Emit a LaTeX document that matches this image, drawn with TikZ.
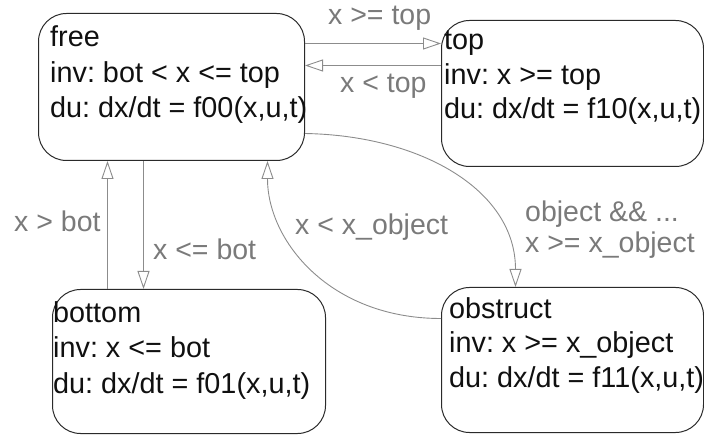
\documentclass[tikz,border=0pt]{standalone}
\usepackage{fontspec}
\setmainfont{Liberation Sans}
\usetikzlibrary{arrows.meta,calc}
\definecolor{boxline}{HTML}{2A2A2A}
\definecolor{edgeline}{HTML}{8C8C8C}
\definecolor{labelgray}{HTML}{7A7A7A}
\definecolor{txt}{HTML}{101010}
\frenchspacing
\begin{document}
\begin{tikzpicture}[x=1pt,y=-1pt,
  state/.style={draw=boxline,line width=1pt,rounded corners=28pt,inner sep=0pt,anchor=north west},
  st/.style={anchor=base west,inner sep=0pt,text=txt,font=\fontsize{28.8}{34}\selectfont},
  lbl/.style={anchor=base west,inner sep=0pt,text=labelgray,font=\fontsize{28.5}{34}\selectfont},
  arr/.style={draw=edgeline,line width=0.9pt,-{Triangle[open,length=18pt,width=12pt]}}]
\useasboundingbox (0,0) rectangle (704,435);
% state boxes
\node[state,minimum width=266pt,minimum height=147pt] (free) at (38,13) {};
\node[state,minimum width=262pt,minimum height=146pt] (top) at (441,20) {};
\node[state,minimum width=273pt,minimum height=144pt] (bottom) at (52,289) {};
\node[state,minimum width=262pt,minimum height=145pt] (obstruct) at (441,287) {};
% state texts
\node[st] (free1) at (50,47) {free};
\node[st] (free2) at (50,83) {inv: bot < x <= top};
\node[st] (free3) at (50,118) {du: dx/dt = f00(x,u,t)};
\node[st] (top1) at (444,50) {top};
\node[st] (top2) at (444,84.5) {inv: x >= top};
\node[st] (top3) at (444,119) {du: dx/dt = f10(x,u,t)};
\node[st] (bottom1) at (53,323) {bottom};
\node[st] (bottom2) at (53,358) {inv: x <= bot};
\node[st] (bottom3) at (53,393) {du: dx/dt = f01(x,u,t)};
\node[st] (obstruct1) at (449,319) {obstruct};
\node[st] (obstruct2) at (449,353) {inv: x >= x\_object};
\node[st] (obstruct3) at (449,388) {du: dx/dt = f11(x,u,t)};
% connectors
\draw[arr] ([yshift=43.5pt]free.east) -- ([yshift=43.5pt]free.east -| top.west);
\draw[arr] ([yshift=28pt]top.west) -- ([yshift=28pt]top.west -| free.east);
\draw[arr] ([xshift=-81.5pt]bottom.north) -- ([xshift=-81.5pt]bottom.north |- free.south);
\draw[arr] ([xshift=-28pt]free.south) -- ([xshift=-28pt]free.south |- bottom.north);
\coordinate (fo1) at ([yshift=-46.5pt]free.east);
\coordinate (fo2) at ([xshift=-57pt]obstruct.north);
\draw[arr] (fo1) .. controls ($(fo1)+(116,2)$) and ($(fo2)+(0,-97)$) .. (fo2);
\coordinate (of1) at ([yshift=41.5pt]obstruct.west);
\coordinate (of2) at ([xshift=96pt]free.south);
\draw[arr] (of1) .. controls ($(of1)+(-111,0)$) and ($(of2)+(0,80)$) .. (of2);
% labels
\node[lbl] (l1) at (328,25) {x >= top};
\node[lbl] (l2) at (340,93) {x < top};
\node[lbl] (l3) at (14,232) {x > bot};
\node[lbl] (l4) at (153,260) {x <= bot};
\node[lbl] (l5) at (295,235) {x < x\_object};
\node[lbl] (l6) at (525,222) {object \&\& ...};
\node[lbl] (l7) at (525,253) {x >= x\_object};
\end{tikzpicture}
\end{document}
